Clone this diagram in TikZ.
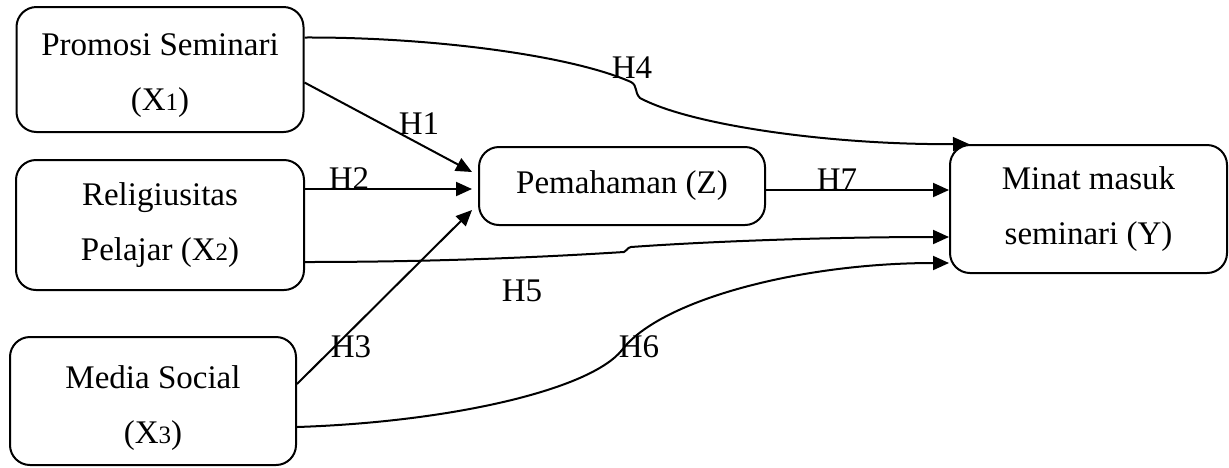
\documentclass[tikz,border=0pt]{standalone}
\usepackage{fontspec}
\setmainfont{Liberation Serif}
\usetikzlibrary{arrows.meta,calc}
\newcommand{\subnum}[1]{{\fontsize{12.5}{12}\selectfont #1}}

\begin{document}
\begin{tikzpicture}[x=0.5pt,y=-0.5pt,
  varbox/.style={draw, line width=1pt, rounded corners=10pt, align=center,
    font=\fontsize{16.5}{27.5}\selectfont, inner sep=0pt},
  hyp/.style={font=\fontsize{16.5}{20}\selectfont, inner sep=0pt},
  link/.style={line width=1pt, -{Triangle[length=8pt,width=7pt]}}]
\useasboundingbox (0,0) rectangle (1229,467);

% Draw the variable boxes
\node[varbox, minimum width=143.5pt, minimum height=62.5pt] (promosi) at (160,69.5) {\rule{0pt}{17pt}Promosi Seminari\\(X\subnum{1})};
\node[varbox, minimum width=144pt, minimum height=65pt] (religi) at (160,225) {Religiusitas\\Pelajar (X\subnum{2})};
\node[varbox, minimum width=143pt, minimum height=64pt] (media) at (153,401) {\rule{0pt}{19pt}Media Social\\(X\subnum{3})};
\node[varbox, minimum width=143pt, minimum height=39pt] (paham) at (622,186) {Pemahaman (Z)};
\node[varbox, minimum width=138.5pt, minimum height=64pt] (minat) at (1088.5,209) {Minat masuk\\seminari (Y)};

% Straight paths into Z and Y
\draw[link] ($(promosi.east)+(0,13)$) -- ($(paham.west)+(-6,-14)$);
\draw[link] ($(religi.east)+(0,-36)$) -- ($(paham.west)+(-6,3)$);
\draw[link] ($(media.east)+(0,-17)$) -- ($(paham.west)+(-6,24)$);
\draw[link] ($(paham.east)+(0,4)$) -- ($(minat.west)+(0,-19)$);

% Curved direct paths into Y
\draw[link] ($(promosi.east)+(0,-32)$) .. controls (430,37) and (570,55) .. (631,82)
  .. controls (638,86) and (634,92) .. (640,98)
  .. controls (690,125) and (830,145) .. ($(minat.north west)+(20,0)$);
\draw[link] ($(religi.east)+(0,37)$) .. controls (450,262) and (560,256) .. (624,252)
  .. controls (628,251) and (626,248) .. (631,247)
  .. controls (700,242) and (820,237) .. ($(minat.west)+(0,28)$);
\draw[link] ($(media.east)+(0,26)$) .. controls (450,422) and (590,390) .. (622,350)
  .. controls (660,300) and (800,263) .. ($(minat.west)+(0,54)$);

% Hypothesis labels
\node[hyp] (h1) at (419,124) {H1};
\node[hyp] (h2) at (349,179) {H2};
\node[hyp] (h3) at (351,347) {H3};
\node[hyp] (h4) at (632,68) {H4};
\node[hyp] (h5) at (522,291) {H5};
\node[hyp] (h6) at (639,347) {H6};
\node[hyp] (h7) at (837,180) {H7};
\end{tikzpicture}
\end{document}
